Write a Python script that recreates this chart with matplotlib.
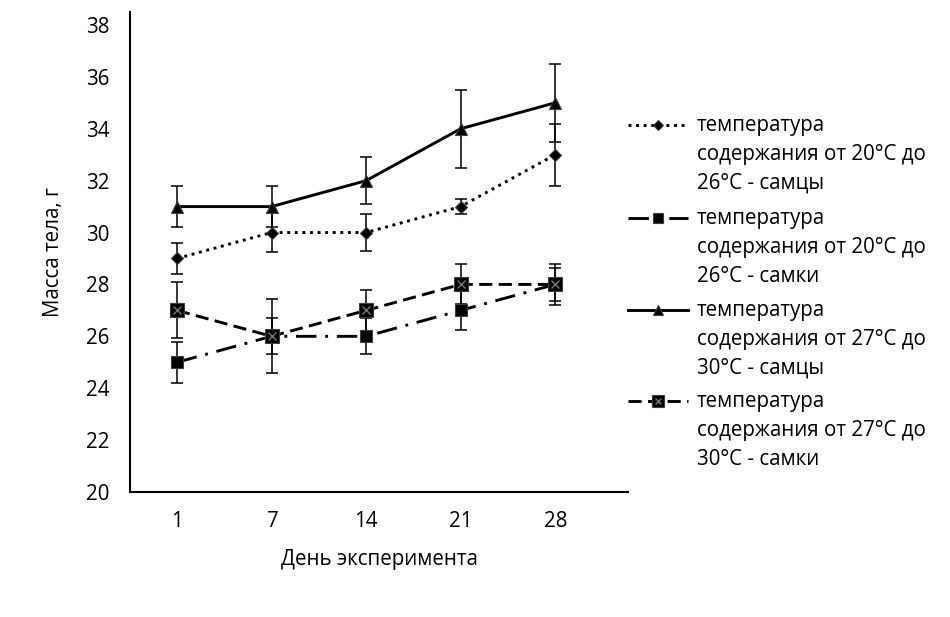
import matplotlib
matplotlib.use("Agg")
import matplotlib.pyplot as plt

plt.rcParams['font.family'] = ['Open Sans', 'DejaVu Sans']

days = ["1", "7", "14", "21", "28"]

m20 = [29, 30, 30, 31, 33]
m20_err = [0.6, 0.75, 0.7, 0.3, 1.2]
f20 = [25, 26, 26, 27, 28]
f20_err = [0.8, 0.7, 0.7, 0.75, 0.65]
m27 = [31, 31, 32, 34, 35]
m27_err = [0.78, 0.78, 0.9, 1.5, 1.5]
f27 = [27, 26, 27, 28, 28]
f27_err = [1.08, 1.42, 0.8, 0.77, 0.8]

labels = [
    "температура\nсодержания от 20°C до\n26°C - самцы",
    "температура\nсодержания от 20°C до\n26°C - самки",
    "температура\nсодержания от 27°C до\n30°C - самцы",
    "температура\nсодержания от 27°C до\n30°C - самки",
]

x = list(range(len(days)))
edge = "#4a3a2a"
fs = 14.8

styles = [
    dict(ls=(0, (1, 1.6)), marker="D", ms=6.5),
    dict(ls=(0, (7, 3, 1, 3)), marker="s", ms=8),
    dict(ls="-", marker="^", ms=9),
    dict(ls=(0, (4.5, 2.2)), marker="s", ms=10),
]
series = [(m20, m20_err), (f20, f20_err), (m27, m27_err), (f27, f27_err)]

fig = plt.figure(figsize=(9.5, 6.17), dpi=100)
ax = fig.add_axes([130 / 950, (617 - 492) / 617, 498 / 950, 480 / 617])

for (y, e), st in zip(series, styles):
    ax.errorbar(x, y, yerr=e, fmt="none", ecolor="black", elinewidth=1.1,
                capsize=4.5, capthick=1.1, zorder=2)
    ax.plot(x, y, color="black", lw=2.1, ls=st["ls"], marker=st["marker"],
            ms=st["ms"], mfc="black", mec=edge, mew=0.8, zorder=3)
ax.plot(x, f27, ls="none", marker="x", ms=6, mec="#777777", mew=1.0, zorder=4)

ax.set_xlim(-0.497, 4.77)
ax.set_ylim(20, 38.5)
ax.set_yticks(range(20, 39, 2))
ax.set_xticks(x)
ax.set_xticklabels(days)
ax.tick_params(length=0, labelsize=fs)
ax.tick_params(axis="x", pad=14)
ax.tick_params(axis="y", pad=14.5)
for s in ["top", "right"]:
    ax.spines[s].set_visible(False)
for s in ["left", "bottom"]:
    ax.spines[s].set_linewidth(1.5)
    ax.spines[s].set_color("black")
ax.set_ylabel("Масса тела, г", fontsize=fs, labelpad=16)
ax.set_xlabel("День эксперимента", fontsize=fs, labelpad=12)

# legend drawn in its own pixel-coordinate axes
lax = fig.add_axes([620 / 950, (617 - 500) / 617, 330 / 950, 400 / 617])
lax.set_xlim(620, 950)
lax.set_ylim(500, 100)
lax.axis("off")
rows = [125, 218, 310, 401]
for yy, lab, st, i in zip(rows, labels, styles, range(4)):
    lax.plot([628, 688], [yy, yy], color="black", lw=2.1, ls=st["ls"],
             clip_on=False)
    lax.plot([658], [yy], ls="none", marker=st["marker"], ms=st["ms"] * 0.85,
             mfc="black", mec=edge, mew=0.8, clip_on=False)
    if i == 3:
        lax.plot([658], [yy], ls="none", marker="x", ms=5, mec="#777777",
                 mew=1.0, clip_on=False)
    lax.text(697, yy - 10, lab, fontsize=fs, va="top", ha="left",
             linespacing=1.5)

fig.savefig("out.png", dpi=100)
